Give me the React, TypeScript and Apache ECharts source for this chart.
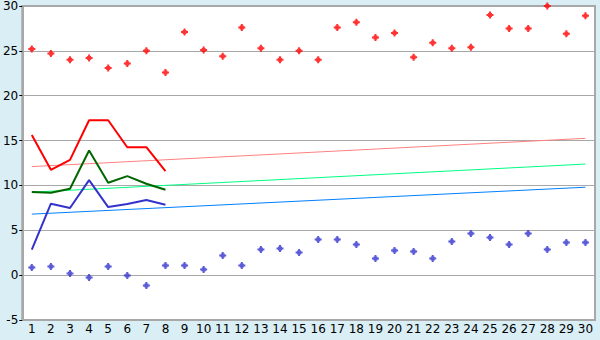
import React, { useEffect, useRef } from "react";
import * as echarts from "echarts";

const categories = Array.from({ length: 30 }, (_, i) => String(i + 1));

const redPoints = [25.2, 24.7, 24.0, 24.2, 23.1, 23.6, 25.0, 22.6, 27.1, 25.1,
  24.4, 27.6, 25.3, 24.0, 25.0, 24.0, 27.6, 28.2, 26.5, 27.0,
  24.3, 25.9, 25.3, 25.4, 29.0, 27.5, 27.5, 30.0, 26.9, 28.9];

const bluePoints = [0.85, 0.96, 0.19, -0.26, 0.96, -0.04, -1.15, 1.07, 1.07, 0.63,
  2.19, 1.07, 2.85, 2.96, 2.52, 3.96, 3.96, 3.41, 1.85, 2.74,
  2.63, 1.85, 3.74, 4.63, 4.19, 3.41, 4.63, 2.85, 3.63, 3.63];

const redLine = [15.63, 11.74, 12.85, 17.26, 17.26, 14.26, 14.26, 11.6];
const greenLine = [9.26, 9.19, 9.63, 13.89, 10.3, 11.04, 10.19, 9.52];
const blueLine = [2.85, 7.96, 7.48, 10.59, 7.59, 7.93, 8.37, 7.85];

// trend line endpoints (category 1 and category 30)
const redTrend = [12.1, 15.25];
const greenTrend = [9.25, 12.38];
const blueTrend = [6.8, 9.8];

const yTicks = { min: -5, max: 30, interval: 5 };

const trendData = (ends: number[]) =>
  categories.map((_, i) => (i === 0 ? ends[0] : i === categories.length - 1 ? ends[1] : null));

const marker = "path://M2.5,0H4.5V1.5H5.5V2.5H7V4.5H5.5V5.5H4.5V7H2.5V5.5H1.5V4.5H0V2.5H1.5V1.5H2.5Z";

export default function App() {
  const ref = useRef<HTMLDivElement>(null);
  useEffect(() => {
    document.body.style.margin = "0";
    const chart = echarts.init(ref.current!, undefined, { renderer: "svg" });
    const font = "DejaVu Sans";
    chart.setOption({
      animation: false,
      backgroundColor: "#d9eef5",
      grid: {
        left: 20,
        right: 5,
        top: 5,
        bottom: 20,
        show: true,
        backgroundColor: "#ffffff",
        borderColor: "#a8a8a8",
        borderWidth: 2,
      },
      xAxis: {
        type: "category",
        data: categories,
        boundaryGap: true,
        axisLine: { lineStyle: { color: "#a8a8a8", width: 1 } },
        axisTick: { alignWithLabel: true, length: 5, lineStyle: { color: "#000000" } },
        axisLabel: { color: "#000000", fontFamily: font, fontSize: 12, margin: 3, interval: 0 },
        splitLine: { show: false },
      },
      yAxis: {
        type: "value",
        min: yTicks.min,
        max: yTicks.max,
        interval: yTicks.interval,
        axisLine: { show: true, lineStyle: { color: "#a8a8a8", width: 2 } },
        axisTick: { show: true, length: 3, lineStyle: { color: "#000000" } },
        axisLabel: { color: "#000000", fontFamily: font, fontSize: 12, margin: 4 },
        splitLine: { lineStyle: { color: "#a8a8a8", width: 1 } },
      },
      series: [
        {
          type: "line",
          data: trendData(redTrend),
          connectNulls: true,
          showSymbol: false,
          lineStyle: { color: "#ff8080", width: 1 },
          z: 1,
        },
        {
          type: "line",
          data: trendData(greenTrend),
          connectNulls: true,
          showSymbol: false,
          lineStyle: { color: "#00ff80", width: 1 },
          z: 1,
        },
        {
          type: "line",
          data: trendData(blueTrend),
          connectNulls: true,
          showSymbol: false,
          lineStyle: { color: "#0080ff", width: 1 },
          z: 1,
        },
        {
          type: "line",
          data: redLine,
          showSymbol: false,
          lineStyle: { color: "#ff0000", width: 2 },
          z: 2,
        },
        {
          type: "line",
          data: greenLine,
          showSymbol: false,
          lineStyle: { color: "#006600", width: 2 },
          z: 2,
        },
        {
          type: "line",
          data: blueLine,
          showSymbol: false,
          lineStyle: { color: "#3333cc", width: 2 },
          z: 2,
        },
        {
          type: "scatter",
          data: redPoints,
          symbol: marker,
          symbolSize: 7,
          itemStyle: { color: "#ff0000" },
          z: 3,
        },
        {
          type: "scatter",
          data: bluePoints,
          symbol: marker,
          symbolSize: 7,
          itemStyle: { color: "#3333cc" },
          z: 3,
        },
      ],
    });
    return () => chart.dispose();
  }, []);
  return <div ref={ref} style={{ width: 600, height: 340 }} />;
}
